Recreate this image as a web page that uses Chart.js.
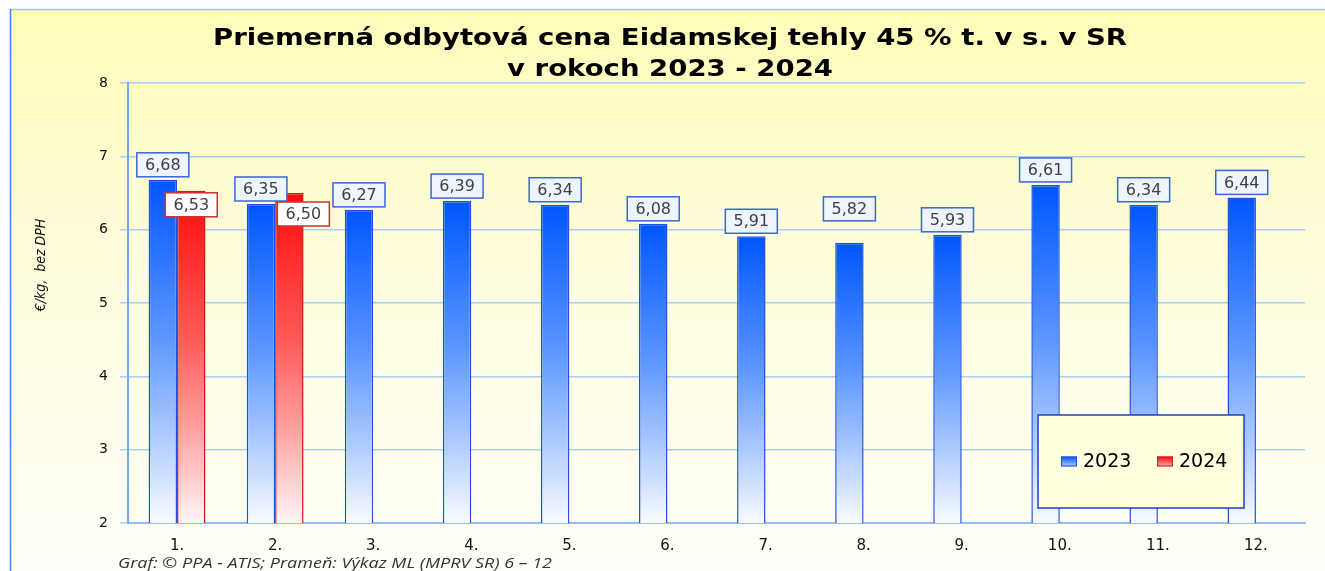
<!DOCTYPE html>
<html>
<head>
<meta charset="utf-8">
<script src="https://cdn.jsdelivr.net/npm/chart.js@4"></script>
<style>
  body { margin: 0; background: #ffffff; }
  canvas { display: block; }
</style>
</head>
<body>
<canvas id="graf" width="1325" height="571"></canvas>
<script>
// mesiace
const months = ['1.', '2.', '3.', '4.', '5.', '6.', '7.', '8.', '9.', '10.', '11.', '12.'];
// cena EUR/kg bez DPH
const price2023 = [6.68, 6.35, 6.27, 6.39, 6.34, 6.08, 5.91, 5.82, 5.93, 6.61, 6.34, 6.44];
const price2024 = [6.53, 6.50, null, null, null, null, null, null, null, null, null, null];
const yTicks = [2, 3, 4, 5, 6, 7, 8];

const titleLines = ['Priemerná odbytová cena Eidamskej tehly 45 % t. v s. v SR', 'v rokoch 2023 - 2024'];
const yTitle = '€/kg,  bez DPH';
const caption = 'Graf: © PPA - ATIS; Prameň: Výkaz ML (MPRV SR) 6 – 12';

// a few labels were moved by hand in the original (dataset-index: dx, dy)
const labelNudge = { '0-7': [0, -19], '1-1': [14, 7] };

function barFill(stops) {
    return function (c) {
        const chart = c.chart;
        if (!chart.chartArea || !c.parsed || c.parsed.y == null) return stops[0][1];
        const y = chart.scales.y;
        const top = y.getPixelForValue(c.parsed.y);
        const g = chart.ctx.createLinearGradient(0, top, 0, y.bottom);
        stops.forEach(s => g.addColorStop(s[0], s[1]));
        return g;
    };
}
const blueStops = [[0, '#0056ff'], [0.45, '#5a95ff'], [0.75, '#aecbff'], [1, '#f8fbff']];
const redStops = [[0, '#ff0a0a'], [0.45, '#ff5a5a'], [0.75, '#ffaaaa'], [1, '#fff6f6']];

function fmt(v) {
    return v.toFixed(2).replace('.', ',');
}

// the original picture is stretched sideways, so text gets stretched too
function stretchText(ctx, text, x, y, sx) {
    ctx.save();
    ctx.translate(x, y);
    ctx.scale(sx, 1);
    ctx.fillText(text, 0, 0);
    ctx.restore();
}

const frame = {
    id: 'frame',
    beforeDraw(chart) {
        const ctx = chart.ctx;
        ctx.save();
        ctx.fillStyle = '#ffffff';
        ctx.fillRect(0, 0, chart.width, chart.height);
        const g = ctx.createLinearGradient(0, 10, 0, chart.height);
        g.addColorStop(0, '#fffbb9');
        g.addColorStop(0.5, '#fffde0');
        g.addColorStop(1, '#fffff9');
        ctx.fillStyle = g;
        ctx.fillRect(10, 9, chart.width - 10, chart.height - 9);
        ctx.lineWidth = 1.5;
        ctx.strokeStyle = '#9fc3ee';
        ctx.beginPath();
        ctx.moveTo(10, 9.5);
        ctx.lineTo(chart.width, 9.5);
        ctx.stroke();
        ctx.strokeStyle = '#3a88ff';
        ctx.beginPath();
        ctx.moveTo(10.5, 9);
        ctx.lineTo(10.5, chart.height);
        ctx.stroke();
        ctx.restore();
    },
    afterDraw(chart) {
        const ctx = chart.ctx;
        ctx.save();
        // title
        ctx.fillStyle = '#000000';
        ctx.textAlign = 'center';
        ctx.textBaseline = 'alphabetic';
        ctx.font = 'bold 23px "DejaVu Sans"';
        const sx = 914 / ctx.measureText(titleLines[0]).width;
        stretchText(ctx, titleLines[0], 670, 45, sx);
        stretchText(ctx, titleLines[1], 670, 76, sx);
        // y title
        ctx.save();
        ctx.translate(41, 265);
        ctx.rotate(-Math.PI / 2);
        ctx.textBaseline = 'middle';
        ctx.font = 'italic 14px "Liberation Sans Narrow", "DejaVu Sans Condensed"';
        ctx.fillStyle = '#111111';
        ctx.fillText(yTitle, 0, 0);
        ctx.restore();
        // caption
        ctx.textAlign = 'left';
        ctx.textBaseline = 'middle';
        ctx.font = 'italic 15px "Open Sans"';
        ctx.fillStyle = '#333333';
        stretchText(ctx, caption, 118, 564, 434 / ctx.measureText(caption).width);

        // legend
        const a = chart.chartArea;
        const lx = a.right - 267, ly = a.bottom - 108, lw = 206, lh = 93;
        ctx.fillStyle = '#ffffe0';
        ctx.fillRect(lx, ly, lw, lh);
        ctx.strokeStyle = '#1f3fc8';
        ctx.lineWidth = 1.5;
        ctx.strokeRect(lx, ly, lw, lh);
        const items = [
            { text: chart.data.datasets[0].label, x: lx + 23, stops: blueStops, border: '#2050dd' },
            { text: chart.data.datasets[1].label, x: lx + 119, stops: redStops, border: '#d01818' }
        ];
        const cy = ly + lh / 2;
        ctx.font = '19px "DejaVu Sans"';
        ctx.textBaseline = 'middle';
        items.forEach(it => {
            const g = ctx.createLinearGradient(0, cy - 5, 0, cy + 5);
            g.addColorStop(0, it.stops[0][1]);
            g.addColorStop(1, it.stops[2][1]);
            ctx.fillStyle = g;
            ctx.fillRect(it.x, cy - 5, 16, 10);
            ctx.strokeStyle = it.border;
            ctx.lineWidth = 1;
            ctx.strokeRect(it.x + 0.5, cy - 4.5, 15, 9);
            ctx.fillStyle = '#000000';
            ctx.fillText(it.text, it.x + 22, cy + 1);
        });
        ctx.restore();
    }
};

const valueBoxes = {
    id: 'valueBoxes',
    afterDatasetsDraw(chart) {
        const ctx = chart.ctx;
        ctx.save();
        ctx.font = '16px "DejaVu Sans"';
        ctx.textAlign = 'center';
        ctx.textBaseline = 'middle';
        chart.data.datasets.forEach((ds, di) => {
            const meta = chart.getDatasetMeta(di);
            meta.data.forEach((bar, i) => {
                const v = ds.data[i];
                if (v == null) return;
                const nudge = labelNudge[di + '-' + i] || [0, 0];
                const cx = bar.x + nudge[0];
                const cy = (di === 0 ? bar.y - 15 : bar.y + 14) + nudge[1];
                const w = 52, h = 24;
                ctx.fillStyle = di === 0 ? '#eef5ff' : '#ffffff';
                ctx.fillRect(cx - w / 2, cy - h / 2, w, h);
                ctx.lineWidth = 1.5;
                ctx.strokeStyle = di === 0 ? '#3a66d6' : '#cc3030';
                ctx.strokeRect(cx - w / 2, cy - h / 2, w, h);
                ctx.fillStyle = '#404040';
                ctx.fillText(fmt(v), cx, cy + 1);
            });
        });
        ctx.restore();
    }
};

const ctx = document.getElementById('graf').getContext('2d');

new Chart(ctx, {
    type: 'bar',
    data: {
        labels: months,
        datasets: [{
                label: '2023',
                data: price2023,
                backgroundColor: barFill(blueStops),
                borderColor: '#2050dd',
                borderWidth: 1.5,
                borderSkipped: false
            },
            {
                label: '2024',
                data: price2024,
                backgroundColor: barFill(redStops),
                borderColor: '#d01818',
                borderWidth: 1.5,
                borderSkipped: false
            }
        ]
    },
    options: {
        responsive: false,
        animation: false,
        events: [],
        categoryPercentage: 0.58,
        barPercentage: 1.0,
        layout: { padding: { top: 83, right: 20, left: 0, bottom: 0 } },
        plugins: {
            legend: { display: false },
            tooltip: { enabled: false },
            title: { display: false }
        },
        scales: {
            x: {
                grid: { display: false, drawTicks: false },
                border: { color: '#8ec2f5', width: 2 },
                ticks: {
                    padding: 14,
                    color: '#111111',
                    font: { family: 'DejaVu Sans', size: 15 }
                },
                afterFit: function (s) { s.height = 48; }
            },
            y: {
                min: yTicks[0],
                max: yTicks[yTicks.length - 1],
                afterBuildTicks: function (s) { s.ticks = yTicks.map(v => ({ value: v })); },
                ticks: {
                    padding: 12,
                    color: '#111111',
                    font: { family: 'DejaVu Sans', size: 14 }
                },
                grid: { color: '#a6cff5', lineWidth: 1.5, tickLength: 8 },
                border: { color: '#6aaef5', width: 2 },
                afterFit: function (s) { s.width = 128; }
            }
        }
    },
    plugins: [frame, valueBoxes]
});
</script>
</body>
</html>
